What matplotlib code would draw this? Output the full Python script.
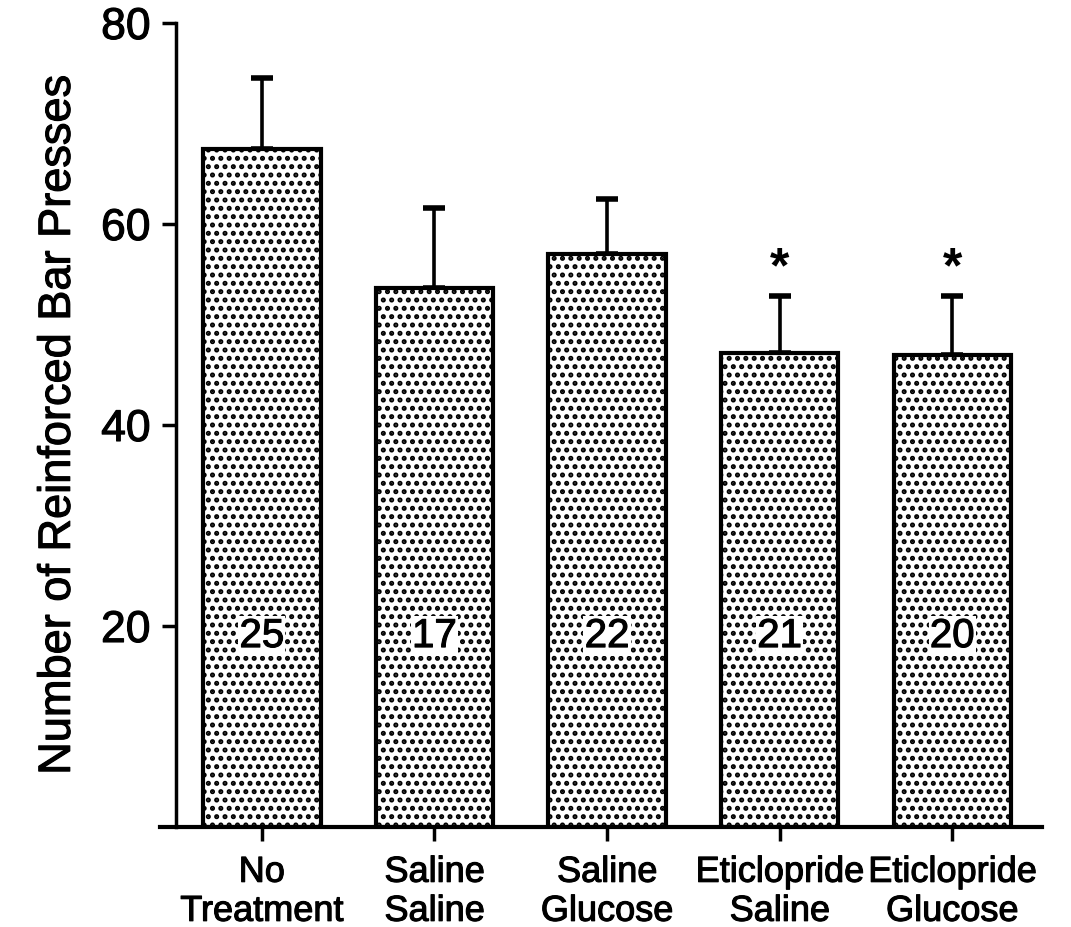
import numpy as np
import matplotlib.pyplot as plt
import matplotlib.patheffects as pe

# group names, means, SEM and n per group
groups = ['No\nTreatment', 'Saline\nSaline', 'Saline\nGlucose', 'Eticlopride\nSaline', 'Eticlopride\nGlucose']
means = [67.5, 53.6, 57.0, 47.2, 47.0]
sem = [7.0, 8.0, 5.5, 5.6, 5.8]
n_rats = [25, 17, 22, 21, 20]
signif = [False, False, False, True, True]

plt.rcParams['font.family'] = ['Liberation Sans', 'DejaVu Sans']
plt.rcParams['hatch.linewidth'] = 2.4

# slightly heavier strokes, like the scanned original
thick = [pe.withStroke(linewidth=0.8, foreground='black')]

fig = plt.figure(figsize=(10.71, 9.28), dpi=100)
ax = fig.add_axes([160/1071, 1 - 828/928, 882/1071, (828 - 24)/928])

x = np.arange(len(groups))
ax.bar(x, means, width=0.68, color='white', edgecolor='black',
       linewidth=3, hatch='..', zorder=2)
ax.errorbar(x, means, yerr=[np.zeros(len(sem)), sem], fmt='none',
            ecolor='black', elinewidth=2.6, capsize=8, capthick=4, zorder=1)

# n per group inside the bars
for i, n in enumerate(n_rats):
    ax.text(x[i], 19, str(n), ha='center', va='center', fontsize=29, zorder=4,
            path_effects=thick,
            bbox=dict(facecolor='white', edgecolor='none', pad=1.0))

# significance stars
for i, s in enumerate(signif):
    if s:
        ax.text(x[i], means[i] + sem[i] + 2.8, '*', ha='center', va='center',
                fontsize=36, fontweight='bold')

ax.set_xlim(-0.59, 4.52)
ax.set_ylim(0, 80)
ax.set_yticks([20, 40, 60, 80])
ax.set_xticks(x)
ax.set_xticklabels(groups, fontsize=26, linespacing=1.15)
ax.tick_params(axis='y', labelsize=32, length=10, width=2.5, pad=8)
ax.tick_params(axis='x', length=10, width=2.5, pad=10)
ax.set_ylabel('Number of Reinforced Bar Presses', fontsize=32.5, labelpad=16)

ax.spines['top'].set_visible(False)
ax.spines['right'].set_visible(False)
ax.spines['left'].set_position(('data', -0.5))
ax.spines['left'].set_linewidth(2.5)
ax.spines['bottom'].set_linewidth(3)

fig.canvas.draw()
for lbl in ax.get_xticklabels() + ax.get_yticklabels() + [ax.yaxis.label]:
    lbl.set_path_effects(thick)

plt.savefig('out.png', dpi=100)
